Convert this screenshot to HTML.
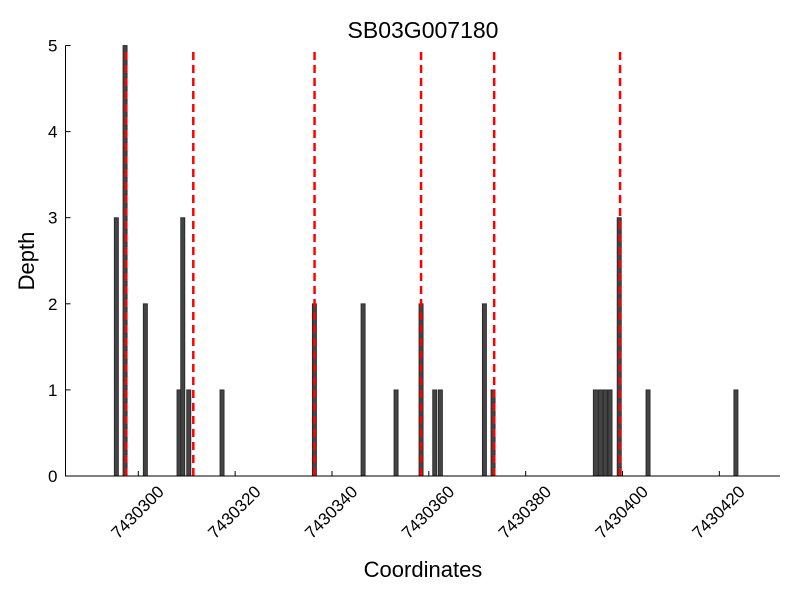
<!DOCTYPE html>
<html><head><meta charset="utf-8"><style>body{margin:0;background:#fff}svg{display:block;font-family:"Liberation Sans",sans-serif}</style></head>
<body>
<svg id="c" width="800" height="600"></svg>
<script>
const base = 7430300;
const barStarts = [-4.96,-3.16,1.03,7.99,8.76,10.0,16.87,35.94,46.0,52.81,57.97,60.8,61.96,71.05,72.84,93.97,95.0,96.0,97.0,98.9,104.85,123.0];
const depths    = [3,5,2,1,3,1,1,2,2,1,2,1,1,2,1,1,1,1,1,3,1,1];
const redLines  = [-2.54,11.36,36.4,58.4,73.5,99.5];
const xTicks = [0,20,40,60,80,100,120];
const yTicks = [0,1,2,3,4,5];
const NS='http://www.w3.org/2000/svg', svg=document.getElementById('c');
const L=65.5,R=780,T=45.5,B=476;
const xs=v=>138.3+v*4.842, ys=v=>B-(B-T)*v/5;
function mk(t,a,txt){const e=document.createElementNS(NS,t);for(const k in a)e.setAttribute(k,a[k]);if(txt!=null)e.textContent=txt;svg.appendChild(e);return e;}
barStarts.forEach((s,i)=>{const e=mk('rect',{x:xs(s),y:ys(depths[i]),width:4.842*0.85,height:B-ys(depths[i]),fill:'#444',stroke:'#222','stroke-width':0.8});

});
redLines.forEach(r=>{const e=mk('line',{x1:xs(r),x2:xs(r),y1:52,y2:B,stroke:'#f00','stroke-width':2.5,'stroke-dasharray':'8,5'});

});
const ax=mk('path',{d:`M${L},${T}V${B}H${R}`,fill:'none',stroke:'#000','stroke-width':1});


yTicks.forEach(v=>{mk('line',{x1:L,x2:L+5,y1:ys(v),y2:ys(v),stroke:'#000'});
const t=mk('text',{x:L-8,y:ys(v)+6,'text-anchor':'end','font-size':17},v);

});
xTicks.forEach(v=>{const x=xs(v);mk('line',{x1:x,x2:x,y1:B,y2:B-5,stroke:'#000'});
const cx=x-1, cy=B+36;
const t=mk('text',{x:cx,y:cy+6,'text-anchor':'middle','font-size':17,transform:`rotate(-45 ${cx} ${cy})`},base+v);

});
let t=mk('text',{x:423,y:38,'text-anchor':'middle','font-size':23},'SB03G007180');

t=mk('text',{x:423,y:577,'text-anchor':'middle','font-size':22},'Coordinates');

t=mk('text',{x:34,y:261,'text-anchor':'middle','font-size':22,transform:'rotate(-90 34 261)'},'Depth');

</script>
</body></html>
